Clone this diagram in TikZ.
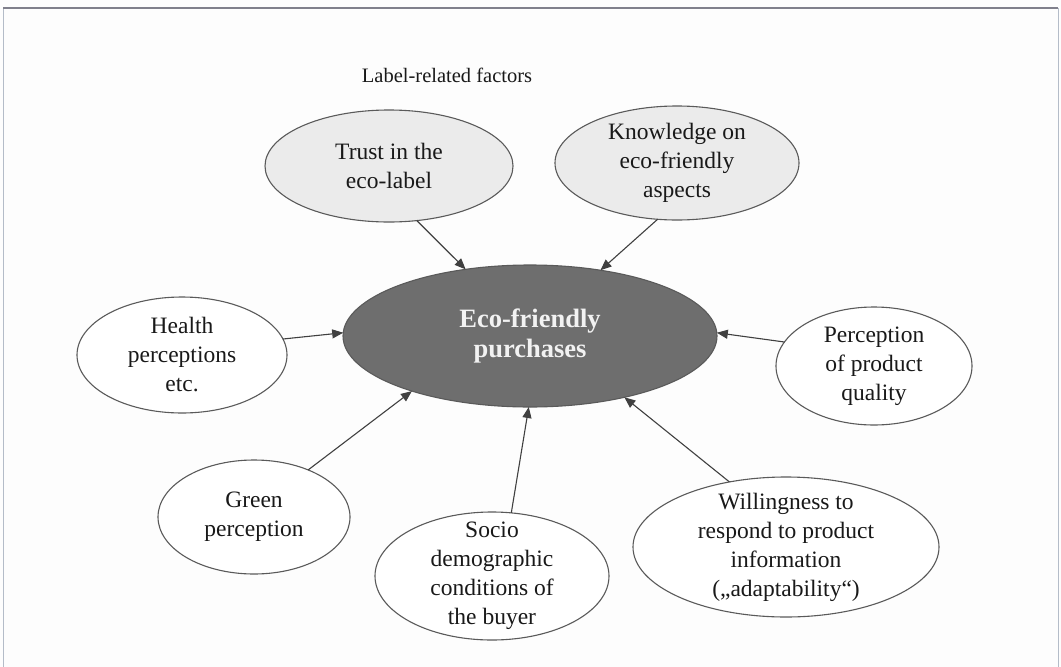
\documentclass[tikz,border=0pt]{standalone}
\usepackage{fontspec}
\setmainfont{Liberation Serif}
\usetikzlibrary{shapes.geometric,arrows.meta}
\definecolor{bgcol}{HTML}{FDFDFD}
\definecolor{lightfill}{HTML}{EBEBEB}
\definecolor{darkfill}{HTML}{6E6E6E}
\definecolor{edgecol}{HTML}{5A5A5A}
\definecolor{arrowcol}{HTML}{404040}
\definecolor{framecol}{HTML}{B4BCC8}
\definecolor{topframe}{HTML}{80808C}
\tikzset{
  ell/.style={ellipse, draw=edgecol, line width=1.1pt, inner sep=0pt, outer sep=0pt, fill=white},
  lightell/.style={ell, fill=lightfill},
  mainell/.style={ell, fill=darkfill},
  txt/.style={align=center, inner sep=0pt, text=black!90, font=\fontsize{23.5}{29}\selectfont},
  titletxt/.style={align=center, inner sep=0pt, text=black!90, font=\fontsize{20.5}{25}\selectfont},
  maintxt/.style={align=center, inner sep=0pt, text=white!95!black, font=\fontsize{26.5}{30}\selectfont\bfseries},
  conn/.style={draw=arrowcol, line width=1.1pt, -{Triangle[length=11pt,width=9pt]}}
}
\begin{document}
\begin{tikzpicture}[x=1pt,y=-1pt]
\useasboundingbox (0,0) rectangle (1061,667);
\fill[bgcol] (0,0) rectangle (1061,667);
\draw[framecol, line width=1pt] (3,8) -- (3,667);
\draw[framecol, line width=1pt] (1058,8) -- (1058,667);
\draw[topframe, line width=1.5pt] (3,8) -- (1058,8);

\node[titletxt] (title) at (447,75) {Label-related factors};

\node[mainell, minimum width=374pt, minimum height=142pt] (main) at (530,336) {};
\node[maintxt] (maint) at (main) {Eco-friendly\\purchases};

\node[lightell, minimum width=248pt, minimum height=112pt] (trust) at (389,166) {};
\node[txt] (trustt) at (trust) {Trust in the\\eco-label};

\node[lightell, minimum width=244pt, minimum height=114pt] (know) at (677,163) {};
\node[txt] (knowt) at (know) {Knowledge on\\eco-friendly\\aspects};

\node[ell, minimum width=210pt, minimum height=116pt] (health) at (182,355) {};
\node[txt] (healtht) at (health) {Health\\perceptions\\etc.};

\node[ell, minimum width=196pt, minimum height=118pt] (qual) at (874,366) {};
\node[txt] (qualt) at (qual) {Perception\\of product\\quality};

\node[ell, minimum width=192pt, minimum height=114pt] (green) at (254,517) {};
\node[txt] (greent) at (green) {Green\\perception};

\node[ell, minimum width=234pt, minimum height=128pt] (socio) at (492,576) {};
\node[txt] (sociot) at (socio) {Socio\\demographic\\conditions of\\the buyer};

\node[ell, minimum width=306pt, minimum height=140pt] (will) at (786,547) {};
\node[txt] (willt) at (will) {Willingness to\\respond to product\\information\\(„adaptability“)};

\draw[conn] (trust.-63) -- (main.134);
\draw[conn] (know.-109) -- (main.43);
\draw[conn] (health.9) -- (main.179);
\draw[conn] (qual.165) -- (main.1);
\draw[conn] (green.41) -- (main.-155);
\draw[conn] (socio.73) -- (main.-91);
\draw[conn] (will.131) -- (main.-33);
\end{tikzpicture}
\end{document}
